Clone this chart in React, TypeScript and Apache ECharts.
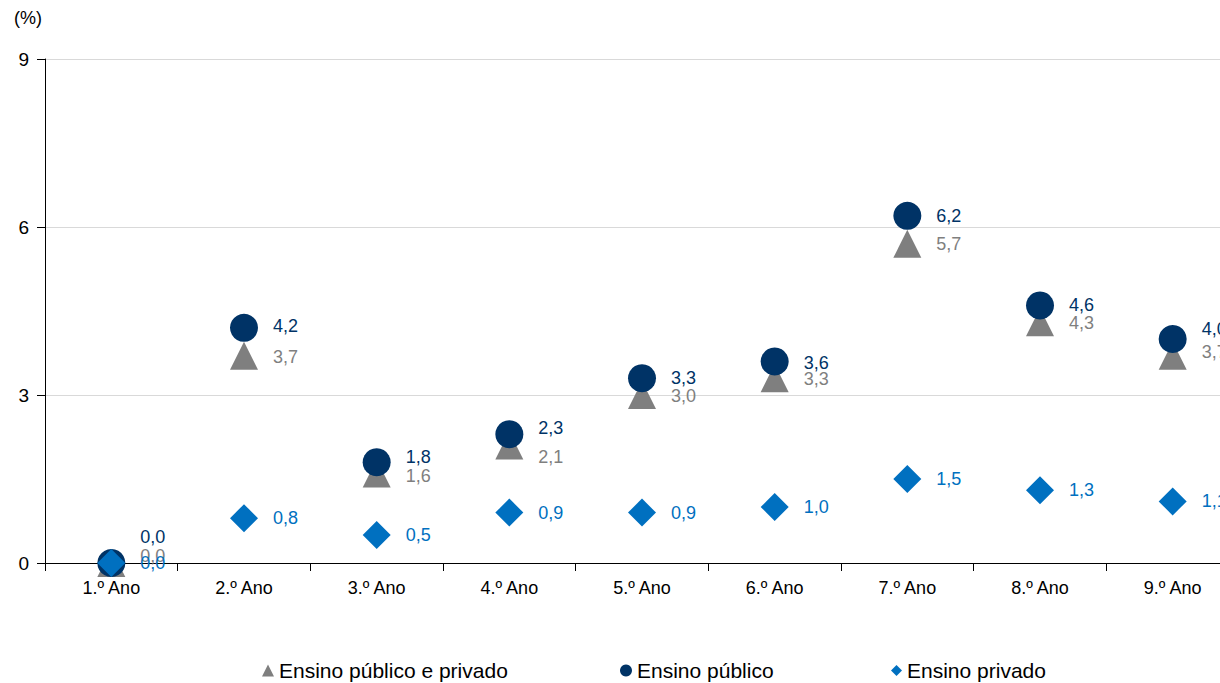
import React, { useEffect, useRef } from "react";
import * as echarts from "echarts";

const categories = ["1.º Ano", "2.º Ano", "3.º Ano", "4.º Ano", "5.º Ano", "6.º Ano", "7.º Ano", "8.º Ano", "9.º Ano"];
const seriesNames = ["Ensino público e privado", "Ensino público", "Ensino privado"];
const totalValues = [0.0, 3.7, 1.6, 2.1, 3.0, 3.3, 5.7, 4.3, 3.7];
const publicValues = [0.0, 4.2, 1.8, 2.3, 3.3, 3.6, 6.2, 4.6, 4.0];
const privateValues = [0.0, 0.8, 0.5, 0.9, 0.9, 1.0, 1.5, 1.3, 1.1];
const yTicks = { min: 0, max: 9, interval: 3 };

// vertical nudges of the value labels (px), as placed in the reference to avoid overlaps
const totalLabelDy = [-7, 1, 3, 12, 1, 1, 0, 1, -4];
const publicLabelDy = [-26, -2, -5, -6, 0, 2, 0, 0, -10];
const privateLabelDy = [0, 0, 0, 0, 0, 0, 0, 0, 0];

const GRAY = "#7f7f7f";
const NAVY = "#003366";
const BLUE = "#0070C0";
const FONT = "'Liberation Sans', Arial, sans-serif";

export default function App() {
  const ref = useRef<HTMLDivElement>(null);
  useEffect(() => {
    document.body.style.margin = "0";
    const chart = echarts.init(ref.current!, undefined, { renderer: "svg" });
    const mk = (name: string, values: number[], symbol: string, color: string, dy: number[]) => ({
      name,
      type: "scatter",
      symbol,
      symbolSize: 28,
      itemStyle: { color, opacity: 1 },
      emphasis: { disabled: true },
      label: {
        show: true,
        position: "right",
        distance: 15,
        color,
        fontSize: 18,
        fontFamily: FONT,
        formatter: (p: any) => Number(p.value).toFixed(1).replace(".", ","),
      },
      data: values.map((v, i) => ({ value: v, label: { offset: [0, dy[i]] } })),
    });
    const legendText = { fontSize: 21, fontFamily: FONT, color: "#000" };
    chart.setOption({
      animation: false,
      backgroundColor: "#ffffff",
      grid: { left: 45, top: 59, width: 1194, height: 504 },
      graphic: [
        {
          type: "text",
          left: 14,
          top: 9,
          style: { text: "(%)", fontSize: 18, fontFamily: FONT, fill: "#000" },
        },
      ],
      xAxis: {
        type: "category",
        data: categories,
        axisLine: { lineStyle: { color: "#000", width: 1 } },
        axisTick: { show: true, length: 8, lineStyle: { color: "#000" } },
        axisLabel: { color: "#000", fontSize: 18, fontFamily: FONT, margin: 16, interval: 0 },
        splitLine: { show: false },
      },
      yAxis: {
        type: "value",
        min: yTicks.min,
        max: yTicks.max,
        interval: yTicks.interval,
        axisLine: { show: true, lineStyle: { color: "#000", width: 1 } },
        axisTick: { show: true, length: 8, lineStyle: { color: "#000" } },
        axisLabel: { color: "#000", fontSize: 19, fontFamily: FONT, margin: 16 },
        splitLine: { show: true, lineStyle: { color: "#d9d9d9", width: 1 } },
      },
      legend: [
        { data: [seriesNames[0]], left: 257, top: 655, itemWidth: 12, itemHeight: 12, textStyle: legendText },
        { data: [seriesNames[1]], left: 615, top: 655, itemWidth: 12, itemHeight: 12, textStyle: legendText },
        { data: [seriesNames[2]], left: 886, top: 655, itemWidth: 11, itemHeight: 11, textStyle: legendText },
      ],
      series: [
        mk(seriesNames[0], totalValues, "triangle", GRAY, totalLabelDy),
        mk(seriesNames[1], publicValues, "circle", NAVY, publicLabelDy),
        mk(seriesNames[2], privateValues, "diamond", BLUE, privateLabelDy),
      ],
    });
    return () => chart.dispose();
  }, []);
  return (
    <div style={{ width: 1220, height: 683, overflow: "hidden", position: "relative" }}>
      <div ref={ref} style={{ width: 1240, height: 683 }} />
    </div>
  );
}
